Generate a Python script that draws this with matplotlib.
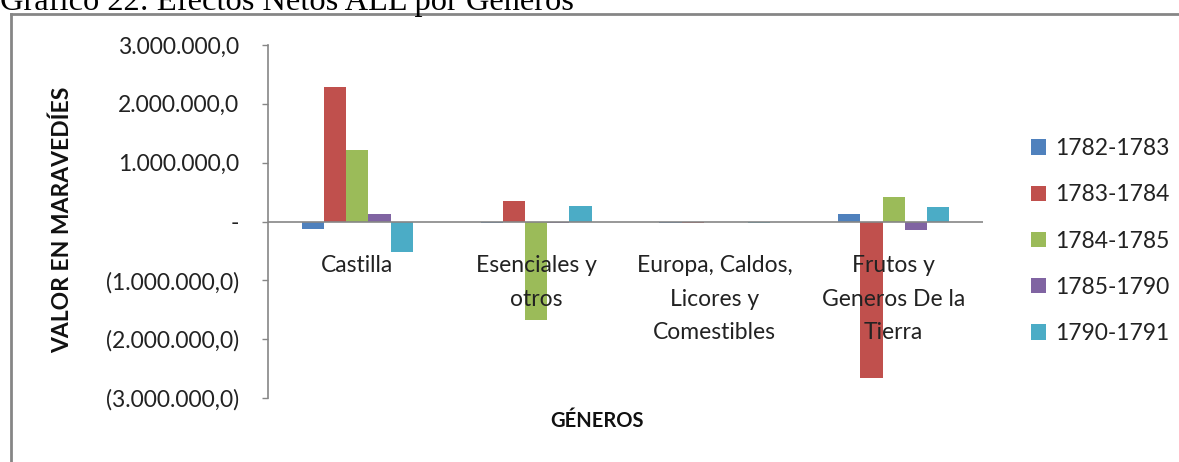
import numpy as np
import matplotlib
matplotlib.use("Agg")
import matplotlib.pyplot as plt
from matplotlib.ticker import FuncFormatter, MultipleLocator
from matplotlib.patches import Patch

plt.rcParams['font.family'] = ['Lato', 'DejaVu Sans']

# Data (maravedíes)
categories = ["Castilla", "Esenciales y\notros", "Europa, Caldos,\nLicores y\nComestibles",
              "Frutos y\nGeneros De la\nTierra"]
periods = ["1782-1783", "1783-1784", "1784-1785", "1785-1790", "1790-1791"]
v_1782_1783 = [-135000, -30000, -25000, 135000]
v_1783_1784 = [2290000, 355000, -25000, -2660000]
v_1784_1785 = [1220000, -1680000, 0, 420000]
v_1785_1790 = [135000, -30000, 0, -140000]
v_1790_1791 = [-510000, 270000, -25000, 240000]
series = [v_1782_1783, v_1783_1784, v_1784_1785, v_1785_1790, v_1790_1791]
colors = ["#4F81BD", "#C0504D", "#9BBB59", "#8064A2", "#4BACC6"]

fig = plt.figure(figsize=(11.79, 4.62), dpi=100)
ax = fig.add_axes([268 / 1179, 1 - 398 / 462, (983 - 268) / 1179, (398 - 45) / 462])

x = np.arange(len(categories))
w = 0.124
for k, (vals, c) in enumerate(zip(series, colors)):
    ax.bar(x + (k - 2) * w, vals, width=w, color=c, label=periods[k], zorder=2)

ax.axhline(0, color="#868686", lw=1.2, zorder=3)
ax.set_xlim(-0.5, 3.5)
ax.set_ylim(-3000000, 3000000)
ax.yaxis.set_major_locator(MultipleLocator(1000000))


def fmt(v, pos):
    if abs(v) < 1:
        return "-"
    s = f"{abs(v):,.1f}".replace(",", "X").replace(".", ",").replace("X", ".")
    return f"({s})" if v < 0 else s


ax.yaxis.set_major_formatter(FuncFormatter(fmt))
ax.tick_params(axis="y", length=4, width=1, color="#868686", pad=17, labelsize=16.5,
               labelcolor="#222222")
ax.set_xticks([])
for s in ["top", "right", "bottom"]:
    ax.spines[s].set_visible(False)
ax.spines["left"].set_color("#868686")
ax.spines["left"].set_linewidth(1.2)

# category labels just below the zero line
for i, lab in enumerate(categories):
    ax.annotate(lab, xy=(x[i], 0), xytext=(0, -24), textcoords="offset points",
                ha="center", va="top", fontsize=16.5, color="#222222",
                linespacing=1.75, zorder=4)

fig.text(62 / 1179, 1 - 220 / 462, "VALOR EN MARAVEDÍES", rotation=90, ha="center",
         va="center", fontsize=16.5, fontweight="bold", color="#111111")
fig.text(597 / 1179, 1 - 421 / 462, "GÉNEROS", ha="center", va="center", fontsize=14.5,
         fontweight="bold", color="#111111")

handles = [Patch(facecolor=c, label=p) for c, p in zip(colors, periods)]
fig.legend(handles=handles, loc="center left", bbox_to_anchor=(1020 / 1179, 1 - 241 / 462),
           frameon=False, fontsize=16.5, handlelength=0.65, handleheight=0.65,
           handletextpad=0.4, labelspacing=1.1, borderpad=0, labelcolor="#222222")

# outer frame of the chart area
fig.add_artist(plt.Line2D([11 / 1179, 11 / 1179], [0, 1 - 14 / 462], color="#868686",
                          lw=2, transform=fig.transFigure))
fig.add_artist(plt.Line2D([11 / 1179, 1], [1 - 14 / 462, 1 - 14 / 462], color="#868686",
                          lw=2, transform=fig.transFigure))

# document caption, cut off at the top edge as in the source
fig.text(0, 1 - 10 / 462, "Gráfico 22: Efectos Netos ALL por Géneros", ha="left",
         va="baseline", fontsize=23.4, family="Liberation Serif", color="black")

fig.savefig("out.png", dpi=100)
